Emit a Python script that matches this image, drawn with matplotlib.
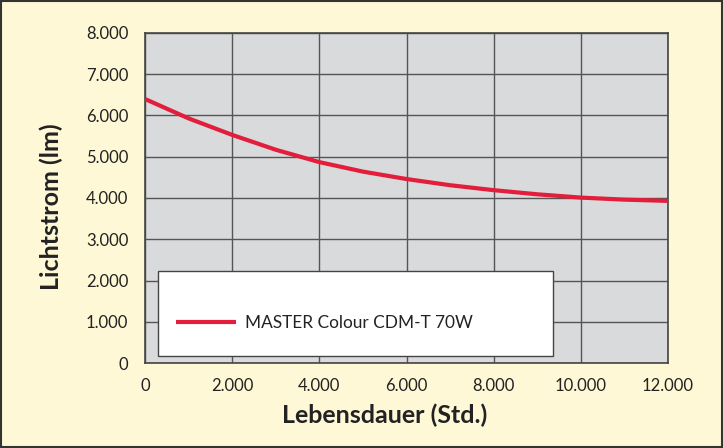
import matplotlib
matplotlib.use("Agg")
import matplotlib.pyplot as plt
from matplotlib.patches import Rectangle
from matplotlib.ticker import FuncFormatter

hours = [0, 1000, 2000, 3000, 4000, 5000, 6000, 7000, 8000, 9000, 10000, 11000, 12000]
lumen = [6400, 5930, 5530, 5170, 4870, 4640, 4460, 4310, 4190, 4090, 4010, 3960, 3930]
series_name = "MASTER Colour CDM-T 70W"
xticks = [0, 2000, 4000, 6000, 8000, 10000, 12000]
yticks = [0, 1000, 2000, 3000, 4000, 5000, 6000, 7000, 8000]

plt.rcParams['font.family'] = ['Lato', 'DejaVu Sans']

fig = plt.figure(figsize=(7.23, 4.48), dpi=100, facecolor='#FFF8D6')
fig.patches.append(Rectangle((0.002, 0.003), 0.996, 0.994, transform=fig.transFigure,
                             fill=False, edgecolor='#333333', linewidth=1.5, zorder=10))
ax = fig.add_axes([145/723, (448-363)/448, (668-145)/723, (363-33)/448])
ax.set_facecolor('#D9DADC')

ax.plot(hours, lumen, color='#E31D3C', linewidth=3.0, label=series_name,
        solid_capstyle='butt', zorder=3)

ax.set_xlim(0, 12000)
ax.set_ylim(0, 8000)
ax.set_xticks(xticks)
ax.set_yticks(yticks)
fmt = FuncFormatter(lambda v, p: "0" if v == 0 else f"{int(v):,}".replace(",", "."))
ax.xaxis.set_major_formatter(fmt)
ax.yaxis.set_major_formatter(fmt)
ax.grid(True, color='#555555', linewidth=1.0, zorder=1)
ax.set_axisbelow(True)
for s in ax.spines.values():
    s.set_color('#444444')
    s.set_linewidth(1.2)
ax.tick_params(axis='both', length=0, labelsize=12, colors='#222222')
ax.tick_params(axis='y', pad=12)
ax.tick_params(axis='x', pad=11)

ax.set_xlabel("Lebensdauer (Std.)", fontsize=18, fontweight='bold', color='#222222',
              va='center', ha='center')
ax.xaxis.set_label_coords((385-145)/523, -(415-363)/330)
ax.set_ylabel("Lichtstrom (lm)", fontsize=18, fontweight='bold', color='#222222',
              va='center', ha='center')
ax.yaxis.set_label_coords(-(145-51)/523, (363-207)/330)

# legend box
ax.add_patch(Rectangle((0.025, 0.021), 0.755, 0.258, transform=ax.transAxes,
                       facecolor='white', edgecolor='#444444', linewidth=1.0, zorder=4))
leg = ax.legend(loc='center left', bbox_to_anchor=((176-145)/523, (363-323)/330),
                fontsize=12.4, frameon=False, handlelength=3.5,
                handletextpad=0.5, borderpad=0, borderaxespad=0)
leg.set_zorder(5)
for t in leg.get_texts():
    t.set_color('#222222')

fig.savefig("out.png", dpi=100, facecolor=fig.get_facecolor())
